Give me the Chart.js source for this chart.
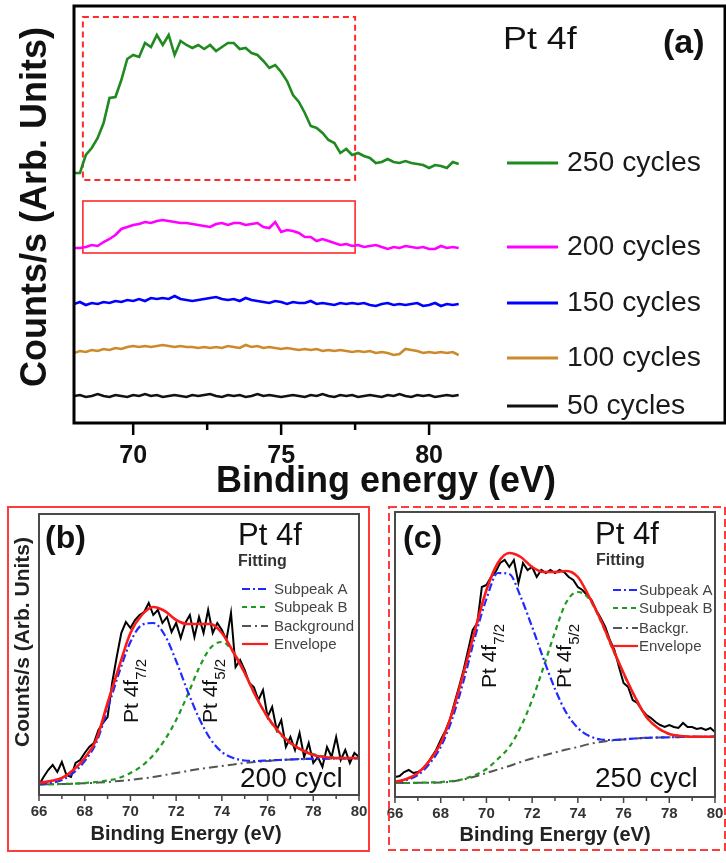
<!DOCTYPE html>
<html><head><meta charset="utf-8">
<script src="https://cdn.jsdelivr.net/npm/chart.js@4.4.1/dist/chart.umd.min.js"></script>
<style>
html,body{margin:0;padding:0;background:#fff;}
#wrap{position:relative;width:726px;height:863px;overflow:hidden;background:#fff;}
canvas{position:absolute;}
</style></head>
<body><div id="wrap">
<canvas id="cA" width="726" height="505" style="left:0;top:0;width:726px;height:505px"></canvas>
<canvas id="cB" width="380" height="358" style="left:0;top:505px;width:380px;height:358px"></canvas>
<canvas id="cC" width="346" height="358" style="left:380px;top:505px;width:346px;height:358px"></canvas>
</div>
<script>
// ---------- DATA: panel (a) ----------
const energyA = [68.0,68.2,68.4,68.6,68.8,69.0,69.2,69.4,69.6,69.8,
 70.0,70.2,70.4,70.6,70.8,71.0,71.2,71.4,71.6,71.8,
 72.0,72.2,72.4,72.6,72.8,73.0,73.2,73.4,73.6,73.8,
 74.0,74.2,74.4,74.6,74.8,75.0,75.2,75.4,75.6,75.8,
 76.0,76.2,76.4,76.6,76.8,77.0,77.2,77.4,77.6,77.8,
 78.0,78.2,78.4,78.6,78.8,79.0,79.2,79.4,79.6,79.8,
 80.0,80.2,80.4,80.6,80.8,81.0];
const cycles250 = [250,250,268,275,285,300,325,326,343,364,
 368,366,380,376,388,378,388,368,382,378,
 375,378,374,378,372,376,380,380,374,375,
 370,368,362,355,358,351,342,328,321,310,
 297,295,290,283,280,270,274,268,270,267,
 265,260,261,264,261,260,262,260,259,258,
 255,258,257,255,261,259];
const cycles200 = [175,175,176,178,177,181,184,188,194,196,
 198,199,201,200,202,203,202,201,200,200,
 199,198,197,196,199,200,198,200,200,198,
 199,200,196,195,201,191,193,192,190,186,
 186,182,184,182,180,178,179,177,178,176,
 177,178,176,174,176,175,177,176,175,176,
 174,174,177,175,176,175];
const cycles150 = [119,121,118,120,119,121,120,122,121,123,
 122,124,122,125,124,125,124,127,124,123,
 122,123,124,125,126,124,123,124,122,125,
 123,122,121,120,122,121,119,121,120,120,
 122,119,120,119,118,120,119,120,119,120,
 118,117,119,120,118,119,118,119,120,117,
 118,120,117,119,118,119];
const cycles100 = [70,72,71,73,72,74,73,75,74,76,
 77,76,77,76,77,78,77,76,77,76,
 76,75,76,75,76,75,77,76,75,78,
 76,77,75,76,75,74,75,74,73,74,
 73,74,72,73,72,73,72,71,72,71,
 72,70,71,70,68,69,74,73,72,70,
 71,70,71,70,71,68];
const cycles50 = [27,28,26,27,29,27,26,28,27,26,
 28,27,29,27,28,26,27,28,27,26,
 28,27,28,29,27,26,28,27,28,26,
 27,29,27,28,27,26,27,28,27,26,
 28,27,29,27,26,28,27,28,26,27,
 28,27,26,28,27,29,27,26,28,27,
 28,26,27,28,27,28];
const labelsA = ['250 cycles','200 cycles','150 cycles','100 cycles','50 cycles'];
const ticksA = [70,75,80];

// ---------- DATA: panels (b) and (c) ----------
const energyData = [66.0,66.2,66.4,66.6,66.8,67.0,67.2,67.4,67.6,67.8,
 68.0,68.2,68.4,68.6,68.8,69.0,69.2,69.4,69.6,69.8,
 70.0,70.2,70.4,70.6,70.8,71.0,71.2,71.4,71.6,71.8,
 72.0,72.2,72.4,72.6,72.8,73.0,73.2,73.4,73.6,73.8,
 74.0,74.2,74.4,74.6,74.8,75.0,75.2,75.4,75.6,75.8,
 76.0,76.2,76.4,76.6,76.8,77.0,77.2,77.4,77.6,77.8,
 78.0,78.2,78.4,78.6,78.8,79.0,79.2,79.4,79.6,79.8,80.0];
const energyFit = [66,66.5,67,67.5,68,68.5,69,69.5,70,70.5,71,71.5,72,72.5,73,73.5,
 74,74.5,75,75.5,76,76.5,77,77.5,78,78.5,79,79.5,80];

const measB = [10,18,25,30,23,33,20,18,32,35,
 42,48,52,65,72,78,112,138,162,173,
 167,175,180,183,192,180,185,172,178,163,
 172,157,172,180,158,178,162,185,162,172,
 165,155,182,128,135,125,112,108,95,105,
 78,88,65,75,48,58,45,62,38,52,
 32,38,28,48,38,58,35,45,32,42,38];
const subAB = [11,12,15,22,34,52,86,122,153,170,172,160,134,104,77,56,43,37,34.5,34,34.5,35,35.5,36,36.2,36.4,36.5,36.6,36.7];
const subBB = [10.5,10.7,11,11.3,12,13,14.5,17,22,29,40,55,75,100,127,147,153,143,122,98,78,62,52,45,41,38.5,37.5,37,37];
const bgB   = [10.5,10.7,11,11.3,11.7,12.3,13,14,15,16.5,18,20,22,24,26,27.5,29,30.5,32,33,34,35,35.5,36,36.2,36.4,36.5,36.6,36.7];
const envB  = [12,14,17,25,37,55,92,128,162,180,188,184,175,171,171,171,162,143,122,98,78,63,52,45,40,38,37,37,37];

const measC = [20,21,25,27,24,25,28,33,40,47,
 57,66,77,94,110,127,147,167,174,210,
 212,220,225,234,237,230,237,214,234,227,
 230,220,227,224,227,224,227,225,220,217,
 210,207,202,197,187,179,170,157,147,130,
 114,110,97,94,87,82,79,75,72,70,
 72,70,69,74,70,70,68,69,67,69,65];
const subAC = [15,17,22,33,50,78,116,160,198,224,223,200,170,138,108,84,69,61,57.5,57,57.7,58.5,59.2,59.5,59.7,60,60.1,60.2,60.3];
const subBC = [14,14,14.2,14.5,15,16,18,22,28,38,50,70,97,130,165,195,205,198,176,149,123,100,80,69,63,61,60.3,60.2,60.3];
const bgC   = [14,14,14.2,14.3,14.5,15.5,17.5,20.5,24,27.5,31,35,38.5,41.5,44.5,47.5,50,53,55,56.5,57.5,58.5,59.2,59.5,59.7,60,60.1,60.2,60.3];
const envC  = [15,18,24,36,54,84,124,167,207,234,244,240,230,225,225,226,220,200,177,150,124,100,80,69,63,61,60.3,60.3,60.3];

const fitLabelsB = ['Subpeak A','Subpeak B','Background','Envelope'];
const fitLabelsC = ['Subpeak A','Subpeak B','Backgr.','Envelope'];

// ---------- helpers ----------
const FONT = '"Liberation Sans", Arial, Helvetica, sans-serif';
const pts = (xs, ys) => xs.map((x, i) => ({x: x, y: ys[i]}));
function txt(ctx, s, x, y, o) {
  ctx.save();
  ctx.font = o.font; ctx.fillStyle = o.color || '#111';
  ctx.textAlign = o.align || 'left'; ctx.textBaseline = o.base || 'middle';
  ctx.translate(x, y);
  if (o.rot) ctx.rotate(o.rot);
  if (o.sx) ctx.scale(o.sx, 1);
  ctx.fillText(s, 0, 0);
  ctx.restore();
}
function rotSub(ctx, main, sub, xBase, yStart, fMain, fSub, shift) {
  ctx.save();
  ctx.fillStyle = '#111';
  ctx.translate(xBase, yStart); ctx.rotate(-Math.PI / 2);
  ctx.textBaseline = 'alphabetic'; ctx.textAlign = 'left';
  ctx.font = fMain; ctx.fillText(main, 0, 0);
  const w = ctx.measureText(main).width;
  ctx.font = fSub; ctx.fillText(sub, w, shift);
  ctx.restore();
}
function line(ctx, x1, y1, x2, y2, color, w, dash) {
  ctx.save(); ctx.strokeStyle = color; ctx.lineWidth = w; ctx.setLineDash(dash || []);
  ctx.beginPath(); ctx.moveTo(x1, y1); ctx.lineTo(x2, y2); ctx.stroke(); ctx.restore();
}
function zeroPad(s) { s.paddingLeft = 0; s.paddingRight = 0; s.paddingTop = 0; s.paddingBottom = 0; }

const common = {responsive: false, animation: false, devicePixelRatio: 1,
  plugins: {legend: {display: false}, tooltip: {enabled: false}}};

// ---------- panel (a) ----------
const colorsA = ['#1f8a1f', '#ff00ff', '#0000ff', '#cc8a2c', '#111111'];
const seriesA = [cycles250, cycles200, cycles150, cycles100, cycles50];
const frameA = {
  id: 'frameA',
  beforeDatasetsDraw(chart) {
    const ctx = chart.ctx, x = chart.scales.x, y = chart.scales.y;
    // highlight boxes
    ctx.save();
    ctx.strokeStyle = '#ff2a2a';
    ctx.lineWidth = 2; ctx.setLineDash([6, 4]);
    const xl = x.getPixelForValue(68.3), xr = x.getPixelForValue(77.5);
    ctx.strokeRect(xl, y.getPixelForValue(406), xr - xl, y.getPixelForValue(243) - y.getPixelForValue(406));
    ctx.setLineDash([]); ctx.lineWidth = 1.6;
    ctx.strokeRect(xl, y.getPixelForValue(222), xr - xl, y.getPixelForValue(170) - y.getPixelForValue(222));
    ctx.restore();
  },
  afterDraw(chart) {
    const ctx = chart.ctx, a = chart.chartArea, x = chart.scales.x;
    ctx.save();
    ctx.strokeStyle = '#000'; ctx.lineWidth = 3;
    ctx.strokeRect(a.left, a.top, a.right - a.left, a.bottom - a.top);
    ctx.restore();
    [70, 72.5, 75, 77.5, 80].forEach(v => {
      const px = x.getPixelForValue(v);
      line(ctx, px, a.bottom, px, a.bottom + (v % 5 === 0 ? 12 : 7), '#000', 2.5);
    });
    // legend
    const rows = [163, 247, 303, 358, 406];
    chart.data.datasets.forEach((d, i) => {
      line(ctx, 507, rows[i], 558, rows[i], d.borderColor, 3);
      txt(ctx, d.label, 567, rows[i] + 1, {font: '27px ' + FONT, color: '#1a1a1a', sx: 1.05});
    });
    txt(ctx, 'Pt 4f', 503, 40, {font: '32px ' + FONT, color: '#111', sx: 1.12});
    txt(ctx, '(a)', 663, 44, {font: 'bold 34px ' + FONT, color: '#111'});
    txt(ctx, 'Binding energy (eV)', 386, 482, {font: 'bold 36px ' + FONT, color: '#111', align: 'center'});
    txt(ctx, 'Counts/s (Arb. Units)', 36, 207, {font: 'bold 36px ' + FONT, color: '#111', align: 'center', rot: -Math.PI / 2});
  }
};
new Chart(document.getElementById('cA'), {
  type: 'line',
  data: {datasets: seriesA.map((s, i) => ({
    label: labelsA[i], data: pts(energyA, s), borderColor: colorsA[i],
    borderWidth: 2.6, pointRadius: 0, tension: 0, fill: false}))},
  options: Object.assign({}, common, {
    layout: {padding: {left: 74, top: 6, right: 1, bottom: 0}},
    scales: {
      x: {type: 'linear', min: 68, max: 90,
        afterBuildTicks: s => { s.ticks = ticksA.map(v => ({value: v})); },
        grid: {display: false, drawTicks: false}, border: {display: false},
        ticks: {font: {family: FONT, size: 25, weight: 'bold'}, color: '#111', padding: 18, maxRotation: 0, autoSkip: false},
        afterFit: s => { s.height = 82; zeroPad(s); }},
      y: {min: 0, max: 417, display: false}
    }
  }),
  plugins: [frameA]
});

// ---------- panels (b) and (c) ----------
function fitPanel(canvasId, cfg) {
  const plug = {
    id: 'frame' + canvasId,
    afterDraw(chart) {
      const ctx = chart.ctx, a = chart.chartArea, x = chart.scales.x;
      // outer red box
      ctx.save(); ctx.strokeStyle = '#ff3b3b'; ctx.lineWidth = 2;
      ctx.setLineDash(cfg.outerDash);
      ctx.strokeRect(cfg.outer[0], cfg.outer[1], cfg.outer[2], cfg.outer[3]);
      ctx.restore();
      ctx.save(); ctx.strokeStyle = '#4a4a4a'; ctx.lineWidth = 2;
      ctx.strokeRect(a.left, a.top, a.right - a.left, a.bottom - a.top);
      ctx.restore();
      for (let v = 66; v <= 80; v++) {
        const px = x.getPixelForValue(v);
        line(ctx, px, a.bottom, px, a.bottom + (v % 2 === 0 ? 6 : 4), '#444', 1.5);
      }
      // legend
      const fits = chart.data.datasets.slice(0, 4);
      const order = [1, 2, 3, 0];
      order.forEach((di, r) => {
        const d = chart.data.datasets[di];
        const yy = cfg.legRows[r];
        line(ctx, cfg.legX[0], yy, cfg.legX[1], yy, d.borderColor, 2.2, d.borderDash);
        txt(ctx, d.label, cfg.legX[2], yy + 1, {font: '15px ' + FONT, color: '#444'});
      });
      txt(ctx, cfg.tag, cfg.tagPos[0], cfg.tagPos[1], {font: 'bold 32px ' + FONT, color: '#111'});
      txt(ctx, 'Pt 4f', cfg.ptPos[0], cfg.ptPos[1], {font: '31px ' + FONT, color: '#111'});
      txt(ctx, 'Fitting', cfg.fitPos[0], cfg.fitPos[1], {font: 'bold 16px ' + FONT, color: '#333'});
      txt(ctx, cfg.cycl, cfg.cyclPos[0], cfg.cyclPos[1], {font: '28px ' + FONT, color: '#111', base: 'alphabetic'});
      rotSub(ctx, 'Pt 4f', '7/2', cfg.lab1[0], cfg.lab1[1], '21px ' + FONT, '15px ' + FONT, 8);
      rotSub(ctx, 'Pt 4f', '5/2', cfg.lab2[0], cfg.lab2[1], '21px ' + FONT, '15px ' + FONT, 8);
      txt(ctx, 'Binding Energy (eV)', cfg.xTitle[0], cfg.xTitle[1], {font: 'bold 20px ' + FONT, color: '#222', align: 'center'});
      if (cfg.yTitle) txt(ctx, 'Counts/s (Arb. Units)', cfg.yTitle[0], cfg.yTitle[1], {font: 'bold 21px ' + FONT, color: '#222', align: 'center', rot: -Math.PI / 2});
    }
  };
  new Chart(document.getElementById(canvasId), {
    type: 'line',
    data: {datasets: [
      {label: cfg.labels[3], data: pts(energyFit, cfg.env), borderColor: '#ff1a1a', borderWidth: 2.6, order: 0, cubicInterpolationMode: 'monotone'},
      {label: cfg.labels[0], data: pts(energyFit, cfg.a), borderColor: '#1f2bff', borderWidth: 2.2, borderDash: [8, 3, 2, 3], order: 1, cubicInterpolationMode: 'monotone'},
      {label: cfg.labels[1], data: pts(energyFit, cfg.b), borderColor: '#1e9a1e', borderWidth: 2.2, borderDash: [5, 4], order: 2, cubicInterpolationMode: 'monotone'},
      {label: cfg.labels[2], data: pts(energyFit, cfg.bg), borderColor: '#555555', borderWidth: 2, borderDash: [9, 4, 2, 4], order: 3, cubicInterpolationMode: 'monotone'},
      {label: 'Data', data: pts(energyData, cfg.meas), borderColor: '#000', borderWidth: 2, order: 4, tension: 0}
    ].map(d => Object.assign({pointRadius: 0, fill: false}, d))},
    options: Object.assign({}, common, {
      layout: {padding: {left: cfg.area[0], top: cfg.area[1], right: cfg.area[2], bottom: 0}},
      scales: {
        x: {type: 'linear', min: 66, max: 80,
          ticks: {stepSize: 2, font: {family: FONT, size: 15, weight: 'bold'}, color: '#333', padding: 8, maxRotation: 0, autoSkip: false},
          grid: {display: false, drawTicks: false}, border: {display: false},
          afterFit: s => { s.height = cfg.area[3]; zeroPad(s); }},
        y: {min: 0, max: cfg.ymax, display: false}
      }
    }),
    plugins: [plug]
  });
}

fitPanel('cB', {
  area: [39, 9, 21, 68], ymax: 281,
  meas: measB, a: subAB, b: subBB, bg: bgB, env: envB, labels: fitLabelsB,
  outer: [8, 2, 361, 344], outerDash: [],
  legX: [242, 268, 274], legRows: [84, 102, 121, 139],
  tag: '(b)', tagPos: [45, 34], ptPos: [238, 31], fitPos: [238, 57],
  cycl: '200 cycl', cyclPos: [240, 282],
  lab1: [138, 218], lab2: [217, 218],
  xTitle: [186, 329], yTitle: [23, 137]
});
fitPanel('cC', {
  area: [15, 7, 11, 66], ymax: 285,
  meas: measC, a: subAC, b: subBC, bg: bgC, env: envC, labels: fitLabelsC,
  outer: [9, 2, 336, 343], outerDash: [8, 4],
  legX: [233, 258, 259], legRows: [85, 103, 123, 141],
  tag: '(c)', tagPos: [23, 34], ptPos: [215, 30], fitPos: [216, 56],
  cycl: '250 cycl', cyclPos: [215, 282],
  lab1: [116, 183], lab2: [191, 183],
  xTitle: [175, 330], yTitle: null
});
</script>
</body></html>
